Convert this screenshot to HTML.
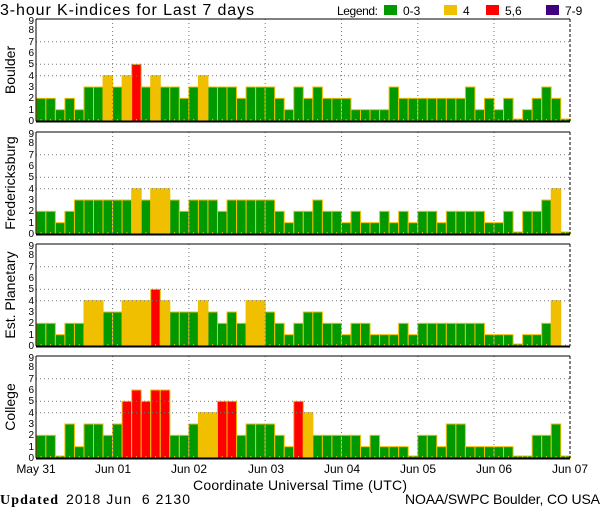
<!DOCTYPE html>
<html><head><meta charset="utf-8"><style>
html,body{margin:0;padding:0;background:#fff;}
svg{display:block;font-family:"Liberation Sans",sans-serif;}
</style></head><body>
<svg id="s" width="600" height="510" viewBox="0 0 600 510" xmlns="http://www.w3.org/2000/svg">
<rect width="600" height="510" fill="#fff"/>
<text x="0" y="15" font-size="16" textLength="254" lengthAdjust="spacing">3-hour K-indices for Last 7 days</text>
<text x="337" y="15" font-size="12" textLength="41" lengthAdjust="spacing">Legend:</text>
<rect x="384" y="5" width="13" height="10" fill="#009900"/><text x="403" y="15" font-size="12">0-3</text>
<rect x="444" y="5" width="13" height="10" fill="#f0c000"/><text x="463" y="15" font-size="12">4</text>
<rect x="486" y="5" width="13" height="10" fill="#ff0000"/><text x="505" y="15" font-size="12">5,6</text>
<rect x="546" y="5" width="13" height="10" fill="#400080"/><text x="565" y="15" font-size="12">7-9</text>
<g id="bars"></g>
<g font-size="14">
<text transform="translate(15,70) rotate(-90)" text-anchor="middle">Boulder</text>
<text transform="translate(15,183) rotate(-90)" text-anchor="middle">Fredericksburg</text>
<text transform="translate(15,295) rotate(-90)" text-anchor="middle">Est. Planetary</text>
<text transform="translate(15,407) rotate(-90)" text-anchor="middle">College</text>
</g>
<g font-size="10" text-anchor="end">
<text x="34" y="124">0</text><text x="34" y="113">1</text><text x="34" y="101">2</text><text x="34" y="90">3</text><text x="34" y="79">4</text><text x="34" y="67">5</text><text x="34" y="56">6</text><text x="34" y="45">7</text><text x="34" y="33">8</text><text x="34" y="24">9</text>
<text x="34" y="237">0</text><text x="34" y="226">1</text><text x="34" y="214">2</text><text x="34" y="203">3</text><text x="34" y="192">4</text><text x="34" y="180">5</text><text x="34" y="169">6</text><text x="34" y="158">7</text><text x="34" y="146">8</text><text x="34" y="137">9</text>
<text x="34" y="349">0</text><text x="34" y="338">1</text><text x="34" y="326">2</text><text x="34" y="315">3</text><text x="34" y="304">4</text><text x="34" y="292">5</text><text x="34" y="281">6</text><text x="34" y="270">7</text><text x="34" y="258">8</text><text x="34" y="249">9</text>
<text x="34" y="461">0</text><text x="34" y="450">1</text><text x="34" y="438">2</text><text x="34" y="427">3</text><text x="34" y="416">4</text><text x="34" y="404">5</text><text x="34" y="393">6</text><text x="34" y="382">7</text><text x="34" y="370">8</text><text x="34" y="361">9</text>
</g>
<g font-size="12" text-anchor="middle">
<text x="36" y="473">May 31</text><text x="113" y="473">Jun 01</text><text x="189" y="473">Jun 02</text><text x="266" y="473">Jun 03</text><text x="342" y="473">Jun 04</text><text x="418" y="473">Jun 05</text><text x="494" y="473">Jun 06</text><text x="570" y="473">Jun 07</text>
</g>
<text x="193" y="490" font-size="14" textLength="214" lengthAdjust="spacing">Coordinate Universal Time (UTC)</text>
<text x="0" y="504" font-size="14" font-family="'Liberation Serif',serif" font-weight="bold" textLength="58" lengthAdjust="spacing">Updated</text>
<text x="66" y="504" font-size="14" textLength="124" lengthAdjust="spacing">2018 Jun &#160;6 2130</text>
<text x="405" y="504" font-size="14" textLength="195" lengthAdjust="spacing">NOAA/SWPC Boulder, CO USA</text>
</svg>
<script>
var D=[
[2,2,1,2,1,3,3,4,3,4,5,3,4,3,3,2,3,4,3,3,3,2,3,3,3,2,1,3,2,3,2,2,2,1,1,1,1,3,2,2,2,2,2,2,2,3,1,2,1,2,0,1,2,3,2,0],
[2,2,1,2,3,3,3,3,3,3,4,3,4,4,3,2,3,3,3,2,3,3,3,3,3,2,1,2,2,3,2,2,1,2,1,1,2,1,2,1,2,2,1,2,2,2,2,1,1,2,0,2,2,3,4,0],
[2,2,1,2,2,4,4,3,3,4,4,4,5,4,3,3,3,4,3,2,3,2,4,4,3,2,1,2,3,3,2,2,1,2,2,1,1,1,2,1,2,2,2,2,2,2,2,1,1,1,0,1,1,2,4,-1],
[2,2,0,3,1,3,3,2,3,5,6,5,6,6,2,2,3,4,4,5,5,2,3,3,3,2,1,5,4,2,2,2,2,2,1,2,1,1,1,0,2,2,1,3,3,1,1,1,1,1,0,0,2,2,3,0]];
var tops=[19,132,244,356],H=102,X0=36.3,W=534/56,U=H/9,s='';
function col(v){return v<=3?'#009900':v==4?'#f0c000':v<=6?'#ff0000':'#400080';}
for(var p=0;p<4;p++){var t=tops[p],b=t+H;
 for(var i=0;i<56;i++){var v=D[p][i],x=X0+i*W;
  if(v>=0){var h=v==0?2:v*U;
   s+='<rect x="'+x.toFixed(2)+'" y="'+(b-h).toFixed(2)+'" width="'+W.toFixed(2)+'" height="'+h.toFixed(2)+'" fill="'+col(v)+'" stroke="#f0c000" stroke-width="1"/>';}
  s+='<line x1="'+(x+W/2).toFixed(2)+'" y1="'+(b-2)+'" x2="'+(x+W/2).toFixed(2)+'" y2="'+b+'" stroke="#f0c000" stroke-width="1"/>';}
 [4,5,7].forEach(function(k){var y=b-k*U;s+='<line x1="36" y1="'+y.toFixed(1)+'" x2="570" y2="'+y.toFixed(1)+'" stroke="#777" stroke-dasharray="1,3"/>';});
 for(var d=1;d<7;d++){var x=X0+d*76.29;s+='<line x1="'+x.toFixed(1)+'" y1="'+t+'" x2="'+x.toFixed(1)+'" y2="'+b+'" stroke="#777" stroke-dasharray="1,3"/>';}
 s+='<line x1="36" y1="'+t+'" x2="570" y2="'+t+'" stroke="#000" stroke-width="1"/>';
 s+='<line x1="36" y1="'+t+'" x2="36" y2="'+b+'" stroke="#000" stroke-width="1"/>';
 s+='<line x1="570" y1="'+t+'" x2="570" y2="'+b+'" stroke="#000" stroke-width="1" stroke-dasharray="3,2"/>';
 s+='<line x1="36" y1="'+(b+0.5)+'" x2="570" y2="'+(b+0.5)+'" stroke="#000" stroke-width="2"/>';
}
document.getElementById('bars').innerHTML=s;
</script>
</body></html>
